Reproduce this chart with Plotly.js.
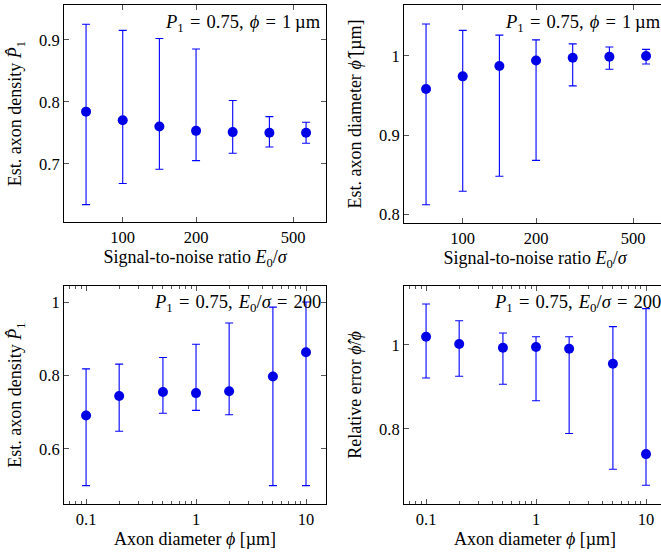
<!DOCTYPE html>
<html>
<head>
<meta charset="utf-8">
<script src="https://cdn.plot.ly/plotly-3.0.1.min.js"></script>
<style>
html,body{margin:0;padding:0;overflow:hidden;background:#fff;}
#chart{width:670px;height:554px;}
</style>
</head>
<body>
<div id="chart"></div>
<script>
// ---- data ----
const snr = [70.7, 100, 141.4, 200, 282.8, 400, 565.7];
const p1SnrMean  = [0.784, 0.770, 0.760, 0.753, 0.751, 0.750, 0.750];
const p1SnrUpper = [0.925, 0.915, 0.902, 0.885, 0.802, 0.776, 0.767];
const p1SnrLower = [0.634, 0.668, 0.691, 0.705, 0.717, 0.727, 0.733];

const phiSnrMean  = [0.958, 0.974, 0.987, 0.994, 0.9975, 0.9987, 0.9996];
const phiSnrUpper = [1.040, 1.032, 1.026, 1.020, 1.015, 1.011, 1.008];
const phiSnrLower = [0.812, 0.829, 0.848, 0.868, 0.962, 0.983, 0.9895];

const diam = [0.1, 0.2, 0.5, 1, 2, 5, 10];
const p1DiamMean  = [0.691, 0.744, 0.755, 0.752, 0.757, 0.797, 0.863];
const p1DiamUpper = [0.818, 0.831, 0.849, 0.885, 0.943, 0.986, 1.0];
const p1DiamLower = [0.500, 0.648, 0.697, 0.705, 0.693, 0.500, 0.500];

const relMean  = [1.019, 1.002, 0.993, 0.9945, 0.9905, 0.955, 0.740];
const relUpper = [1.097, 1.057, 1.028, 1.019, 1.019, 1.043, 1.086];
const relLower = [0.921, 0.925, 0.906, 0.867, 0.789, 0.704, 0.666];

const snrTicks = [100, 200, 500];
const diamTicks = [0.1, 1, 10];
const diamTickText = ['0.1', '1', '10'];

// ---- styling ----
const W = 670, H = 554;
const FONT = '"Liberation Serif", "DejaVu Serif", serif';
const FS_TICK = 16.5;
const FS_TITLE = 18;
const FS_NOTE = 18.5;
const markerColor = '#0000e6';
const barColor = '#0000ff';

function trace(x, mean, up, lo, xa, ya) {
  return {
    type: 'scatter', mode: 'markers', x: x, y: mean, xaxis: xa, yaxis: ya,
    marker: {color: markerColor, size: 10},
    error_y: {
      type: 'data', symmetric: false,
      array: up.map((u, i) => u - mean[i]),
      arrayminus: lo.map((l, i) => mean[i] - l),
      color: barColor, thickness: 1.1, width: 4
    },
    showlegend: false
  };
}

const px = (a, b) => [a / W, b / W];
const py = (top, bot) => [1 - bot / H, 1 - top / H];

// minor tick positions for log axes (2..9 of each decade)
const minorDiam = [];
[0.01, 0.1, 1, 10].forEach(d => { for (let k = 2; k <= 9; k++) minorDiam.push(d * k); });

const baseAxis = {
  showline: true, linecolor: '#000', linewidth: 1, mirror: 'ticks',
  ticks: 'inside', ticklen: 5, tickwidth: 0.8, tickcolor: '#555',
  showgrid: false, zeroline: false,
  tickfont: {family: FONT, size: FS_TICK, color: '#000'},
  automargin: false
};

function xTitle(t) { return {text: t, font: {family: FONT, size: FS_TITLE, color: '#000'}, standoff: 4}; }
function yTitle(t) { return {text: t, font: {family: FONT, size: FS_TITLE, color: '#000'}, standoff: 12}; }

const snrTitle = 'Signal-to-noise ratio <i>E</i><sub>0</sub>/<i>σ</i>';
const diamTitle = 'Axon diameter <i>ϕ</i> [µm]';
const gap = '\u2004', th = '\u2009';
const noteSnr = '<i>P</i><sub>1</sub>' + gap + '=' + gap + '0.75,' + gap + '<i>ϕ</i>' + gap + '=' + gap + '1' + th + 'µm';
const noteDiam = '<i>P</i><sub>1</sub>' + gap + '=' + gap + '0.75,' + gap + '<i>E</i><sub>0</sub>/<i>σ</i>' + gap + '=' + gap + '200';

const layout = {
  width: W, height: H,
  margin: {l: 0, r: 0, t: 0, b: 0},
  paper_bgcolor: '#fff', plot_bgcolor: '#fff',
  font: {family: FONT, size: FS_TICK, color: '#000'},
  xaxis: Object.assign({}, baseAxis, {
    type: 'log', domain: px(64, 326), anchor: 'y',
    range: [Math.log10(57.4), Math.log10(683)],
    tickvals: snrTicks, ticktext: snrTicks.map(String),
    title: xTitle(snrTitle)
  }),
  yaxis: Object.assign({}, baseAxis, {
    domain: py(5, 222), anchor: 'x', range: [0.606, 0.956],
    tickvals: [0.7, 0.8, 0.9], ticktext: ['0.7', '0.8', '0.9'],
    title: yTitle('Est. axon density <i>P̂</i><sub>1</sub>')
  }),
  xaxis2: Object.assign({}, baseAxis, {
    type: 'log', domain: px(404, 666), anchor: 'y2',
    range: [Math.log10(57.4), Math.log10(683)],
    tickvals: snrTicks, ticktext: snrTicks.map(String),
    title: xTitle(snrTitle)
  }),
  yaxis2: Object.assign({}, baseAxis, {
    domain: py(5, 223), anchor: 'x2', range: [0.789, 1.064],
    tickvals: [0.8, 0.9, 1], ticktext: ['0.8', '0.9', '1'],
    title: yTitle('Est. axon diameter <i>ϕ̂</i> [µm]')
  }),
  xaxis3: Object.assign({}, baseAxis, {
    type: 'log', domain: px(64, 326), anchor: 'y3',
    range: [Math.log10(0.063), Math.log10(15.2)],
    tickvals: diamTicks, ticktext: diamTickText,
    minor: {tickvals: minorDiam, ticks: 'inside', ticklen: 3, tickwidth: 0.8, tickcolor: '#555', showgrid: false},
    title: xTitle(diamTitle)
  }),
  yaxis3: Object.assign({}, baseAxis, {
    domain: py(286, 504), anchor: 'x3', range: [0.45, 1.0436],
    tickvals: [0.6, 0.8, 1], ticktext: ['0.6', '0.8', '1'],
    title: yTitle('Est. axon density <i>P̂</i><sub>1</sub>')
  }),
  xaxis4: Object.assign({}, baseAxis, {
    type: 'log', domain: px(404, 666), anchor: 'y4',
    range: [Math.log10(0.063), Math.log10(15.2)],
    tickvals: diamTicks, ticktext: diamTickText,
    minor: {tickvals: minorDiam, ticks: 'inside', ticklen: 3, tickwidth: 0.8, tickcolor: '#555', showgrid: false},
    title: xTitle(diamTitle)
  }),
  yaxis4: Object.assign({}, baseAxis, {
    domain: py(286, 504), anchor: 'x4', range: [0.6214, 1.1397],
    tickvals: [0.8, 1], ticktext: ['0.8', '1'],
    title: yTitle('Relative error <i>ϕ̂</i>/<i>ϕ</i>')
  }),
  annotations: [
    {xref: 'x domain', yref: 'y domain', x: 1, y: 1, xanchor: 'right', yanchor: 'top', xshift: -3, yshift: -5,
     showarrow: false, text: noteSnr, font: {family: FONT, size: FS_NOTE, color: '#000'}},
    {xref: 'x2 domain', yref: 'y2 domain', x: 1, y: 1, xanchor: 'right', yanchor: 'top', xshift: -3, yshift: -5,
     showarrow: false, text: noteSnr, font: {family: FONT, size: FS_NOTE, color: '#000'}},
    {xref: 'x3 domain', yref: 'y3 domain', x: 1, y: 1, xanchor: 'right', yanchor: 'top', xshift: -3, yshift: -4,
     showarrow: false, text: noteDiam, font: {family: FONT, size: FS_NOTE, color: '#000'}},
    {xref: 'x4 domain', yref: 'y4 domain', x: 1, y: 1, xanchor: 'right', yanchor: 'top', xshift: -3, yshift: -4,
     showarrow: false, text: noteDiam, font: {family: FONT, size: FS_NOTE, color: '#000'}}
  ]
};

const data = [
  trace(snr, p1SnrMean, p1SnrUpper, p1SnrLower, 'x', 'y'),
  trace(snr, phiSnrMean, phiSnrUpper, phiSnrLower, 'x2', 'y2'),
  trace(diam, p1DiamMean, p1DiamUpper, p1DiamLower, 'x3', 'y3'),
  trace(diam, relMean, relUpper, relLower, 'x4', 'y4')
];

Plotly.newPlot('chart', data, layout, {displayModeBar: false});
</script>
</body>
</html>
